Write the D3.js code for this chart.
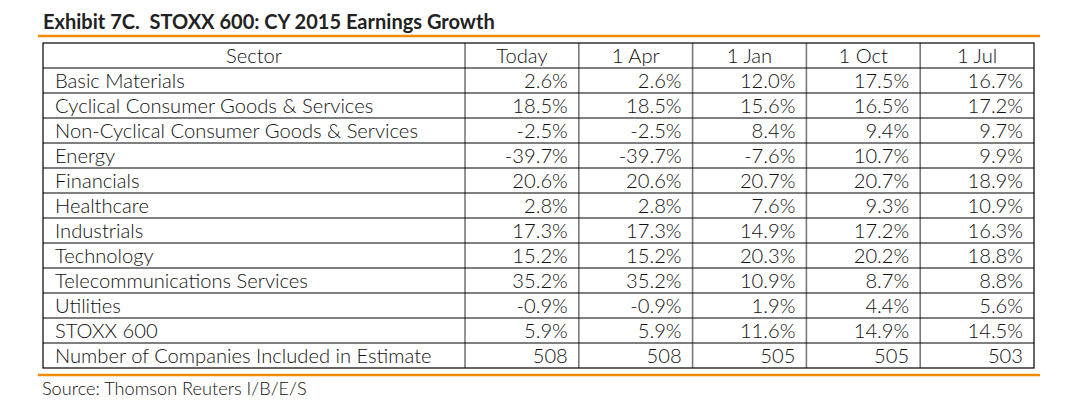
<!DOCTYPE html>
<html><head><meta charset="utf-8">
<script src="https://cdn.jsdelivr.net/npm/d3@7"></script>
<style>
html,body{margin:0;padding:0;background:#fff;}
svg{display:block;}
</style></head>
<body>
<svg id="chart" width="1080" height="414"></svg>
<script>
const title = "Exhibit 7C.  STOXX 600: CY 2015 Earnings Growth";
const source = "Source: Thomson Reuters I/B/E/S";
const headers = ["Sector", "Today", "1 Apr", "1 Jan", "1 Oct", "1 Jul"];
const sectors = [
  "Basic Materials",
  "Cyclical Consumer Goods & Services",
  "Non-Cyclical Consumer Goods & Services",
  "Energy",
  "Financials",
  "Healthcare",
  "Industrials",
  "Technology",
  "Telecommunications Services",
  "Utilities",
  "STOXX 600",
  "Number of Companies Included in Estimate"
];
const today = [2.6, 18.5, -2.5, -39.7, 20.6, 2.8, 17.3, 15.2, 35.2, -0.9, 5.9, 508];
const apr1  = [2.6, 18.5, -2.5, -39.7, 20.6, 2.8, 17.3, 15.2, 35.2, -0.9, 5.9, 508];
const jan1  = [12.0, 15.6, 8.4, -7.6, 20.7, 7.6, 14.9, 20.3, 10.9, 1.9, 11.6, 505];
const oct1  = [17.5, 16.5, 9.4, 10.7, 20.7, 9.3, 17.2, 20.2, 8.7, 4.4, 14.9, 505];
const jul1  = [16.7, 17.2, 9.7, 9.9, 18.9, 10.9, 16.3, 18.8, 8.8, 5.6, 14.5, 503];

const seriesCols = [today, apr1, jan1, oct1, jul1];
const countRow = sectors.length - 1;

const svg = d3.select("#chart");
const FONT = "Lato, 'Open Sans', sans-serif";
const TEXT = "#111";
const ORANGE = "#f28a00";
const W = 300;

const tableLeft = 43, sectorRight = 465, tableRight = 1034;
const tableTop = 43, tableBottom = 368;

const rowKeys = d3.range(sectors.length + 1);
const y = d3.scaleBand().domain(rowKeys).range([tableTop, tableBottom]).padding(0);
const x = d3.scaleBand().domain(d3.range(seriesCols.length)).range([sectorRight, tableRight]).padding(0);

function fit(sel, target) {
  const w = sel.node().getComputedTextLength();
  const fs = parseFloat(sel.attr("font-size"));
  sel.attr("font-size", fs * target / w);
  return fs * target / w;
}

// Title
const t = svg.append("text").attr("x", 43).attr("y", 29)
  .attr("font-family", FONT).attr("font-weight", 700).attr("font-size", 19)
  .attr("fill", "#222").style("white-space", "pre").text(title);
fit(t, 452);

// Orange rules
svg.append("line").attr("x1", 38).attr("x2", 1040).attr("y1", 36).attr("y2", 36)
  .attr("stroke", ORANGE).attr("stroke-width", 2.5);
svg.append("line").attr("x1", 38).attr("x2", 1040).attr("y1", 375).attr("y2", 375)
  .attr("stroke", ORANGE).attr("stroke-width", 2.5);

// measure body font size
const probe = svg.append("text").attr("font-family", FONT).attr("font-weight", W)
  .attr("font-size", 20).text(sectors[countRow]);
const bodySize = fit(probe, 377);
probe.remove();

// vertical internal separators (gray)
const vx = [sectorRight].concat(d3.range(1, seriesCols.length).map(i => x(i)));
svg.selectAll("line.vsep").data(vx).join("line").attr("class", "vsep")
  .attr("x1", d => d).attr("x2", d => d).attr("y1", tableTop).attr("y2", tableBottom)
  .attr("stroke", "#7a7a7a").attr("stroke-width", 1.6);

// horizontal lines
svg.selectAll("line.hsep").data(d3.range(1, rowKeys.length)).join("line").attr("class", "hsep")
  .attr("x1", tableLeft).attr("x2", tableRight).attr("y1", d => y(d)).attr("y2", d => y(d))
  .attr("stroke", "#000").attr("stroke-width", 1.2);

// outer border
svg.append("rect").attr("x", tableLeft).attr("y", tableTop)
  .attr("width", tableRight - tableLeft).attr("height", tableBottom - tableTop)
  .attr("fill", "none").attr("stroke", "#000").attr("stroke-width", 1.2);

const base = 19.5;

// header
svg.append("text").attr("x", (tableLeft + sectorRight) / 2).attr("y", y(0) + base)
  .attr("text-anchor", "middle").attr("font-family", FONT).attr("font-weight", W)
  .attr("font-size", bodySize).attr("fill", TEXT).text(headers[0]);
svg.selectAll("text.hdr").data(headers.slice(1)).join("text").attr("class", "hdr")
  .attr("x", (d, i) => x(i) + x.bandwidth() / 2).attr("y", y(0) + base)
  .attr("text-anchor", "middle").attr("font-family", FONT).attr("font-weight", W)
  .attr("font-size", bodySize).attr("fill", TEXT).text(d => d);

// sector names
svg.selectAll("text.sector").data(sectors).join("text").attr("class", "sector")
  .attr("x", 55).attr("y", (d, i) => y(i + 1) + base)
  .attr("font-family", FONT).attr("font-weight", W)
  .attr("font-size", bodySize).attr("fill", TEXT).text(d => d);

// values (plain hyphen for negatives, as in the reference)
seriesCols.forEach((col, ci) => {
  svg.selectAll("text.v" + ci).data(col).join("text").attr("class", "v" + ci)
    .attr("x", x(ci) + x.bandwidth() - 11).attr("y", (d, i) => y(i + 1) + base)
    .attr("text-anchor", "end").attr("font-family", FONT).attr("font-weight", W)
    .attr("font-size", bodySize).attr("fill", TEXT)
    .text((d, i) => i === countRow ? String(d) : d.toFixed(1) + "%");
});

// source
const s = svg.append("text").attr("x", 42).attr("y", 395)
  .attr("font-family", FONT).attr("font-weight", W).attr("font-size", 16)
  .attr("fill", TEXT).text(source);
fit(s, 265);
</script>
</body></html>
